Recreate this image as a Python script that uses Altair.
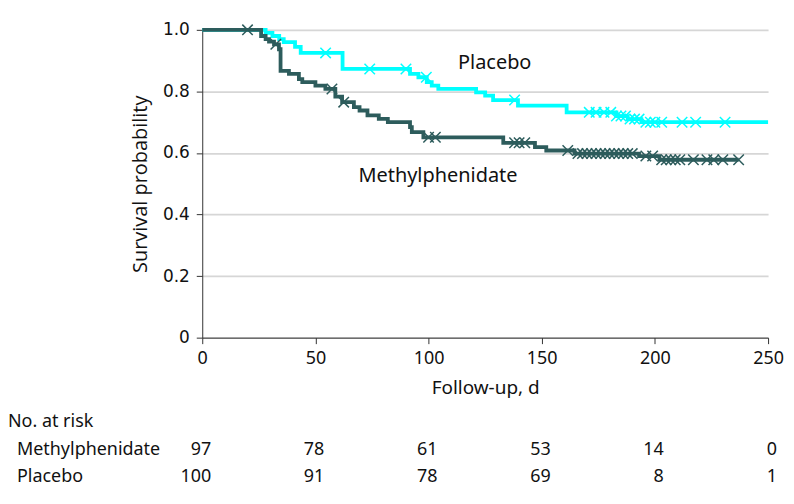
import altair as alt
import pandas as pd

# ---- data ----
placebo_t = [0, 28, 31, 34, 36, 41, 43.5, 62, 91.8, 95.5, 99.2, 101.4, 104.3, 121, 125, 128.5, 139.5, 161, 183, 188, 194, 250]
placebo_s = [1.0, 0.99, 0.98, 0.97, 0.96, 0.945, 0.925, 0.873, 0.857, 0.846, 0.83, 0.819, 0.808, 0.797, 0.786, 0.772, 0.754, 0.732, 0.72, 0.71, 0.70, 0.70]
placebo_cens = [54.5, 74, 90, 99, 138, 171, 174, 177.5, 180.5, 183, 185, 187, 189, 191, 193, 196, 198, 200, 203, 212, 218, 231]

meth_t = [0, 26, 28, 29.5, 31.7, 33.9, 34.6, 38.3, 42.7, 44.2, 50, 54.4, 58.8, 61.8, 67, 69.5, 73, 78, 82, 91.8, 92.6, 97.7, 133, 147, 152, 164.5, 193, 202, 237]
meth_s = [1.0, 0.98, 0.97, 0.962, 0.953, 0.937, 0.867, 0.857, 0.84, 0.83, 0.819, 0.808, 0.783, 0.765, 0.749, 0.738, 0.722, 0.711, 0.70, 0.684, 0.668, 0.651, 0.633, 0.619, 0.608, 0.598, 0.59, 0.578, 0.578]
meth_cens = [20, 32.5, 57.3, 62.5, 100, 103, 138, 140, 142.5, 161.5, 166, 168, 170, 172, 174, 176, 178, 180, 182, 184, 186, 188, 190, 196, 199, 203, 205, 207, 209, 211, 217, 223, 226, 230, 237]

risk_times = [0, 50, 100, 150, 200, 250]
risk_meth = [97, 78, 61, 53, 14, 0]
risk_placebo = [100, 91, 78, 69, 8, 1]

group_names = ["Placebo", "Methylphenidate"]
label_x = [113, 69]
label_y = [0.874, 0.506]

y_ticks = [0, 0.2, 0.4, 0.6, 0.8, 1.0]
x_ticks = [0, 50, 100, 150, 200, 250]

PLACEBO_COLOR = "#00FFFF"
METH_COLOR = "#2d5c5c"
FONT = "Noto Sans"


def step_value(ts, ss, c):
    v = ss[0]
    for t, s in zip(ts, ss):
        if t <= c:
            v = s
    return v


placebo_df = pd.DataFrame({"t": placebo_t, "s": placebo_s})
meth_df = pd.DataFrame({"t": meth_t, "s": meth_s})
placebo_c = pd.DataFrame({"t": placebo_cens, "s": [step_value(placebo_t, placebo_s, c) for c in placebo_cens]})
meth_c = pd.DataFrame({"t": meth_cens, "s": [step_value(meth_t, meth_s, c) for c in meth_cens]})
labels_df = pd.DataFrame({"name": group_names, "t": label_x, "s": label_y})
risk_df = pd.DataFrame({"t": risk_times, "m": [str(v) for v in risk_meth], "p": [str(v) for v in risk_placebo]})

xscale = alt.Scale(domain=[0, 250], nice=False, zero=True)
yscale = alt.Scale(domain=[0, 1], nice=False)

x_axis = alt.Axis(values=x_ticks, title="Follow-up, d", grid=False, tickSize=6,
                  labelPadding=6, titlePadding=11, labelFont=FONT, labelFontSize=18,
                  titleFont=FONT, titleFontSize=19, titleFontWeight="normal",
                  labelColor="#111", titleColor="#111", domainColor="#333", tickColor="#333",
                  labelFlush=False)
y_axis = alt.Axis(values=y_ticks, title="Survival probability", grid=True, tickSize=6,
                  labelPadding=7, titlePadding=12, labelFont="DejaVu Sans", labelFontSize=17,
                  titleFont="Open Sans", titleFontSize=20, titleFontWeight="normal",
                  labelExpr="datum.value == 0 ? '0' : format(datum.value, '.1f')",
                  gridColor="#d6d6d6", gridWidth=1.6,
                  labelColor="#111", titleColor="#111", domainColor="#333", tickColor="#333",
                  labelFlush=False)


def xy():
    return dict(x=alt.X("t:Q", scale=xscale, axis=x_axis),
                y=alt.Y("s:Q", scale=yscale, axis=y_axis))


placebo_line = alt.Chart(placebo_df).mark_line(interpolate="step-after", strokeWidth=3.8,
                                               color=PLACEBO_COLOR).encode(**xy())
meth_line = alt.Chart(meth_df).mark_line(interpolate="step-after", strokeWidth=3.8,
                                         color=METH_COLOR).encode(**xy())

cross = "M-1,-1L1,1M1,-1L-1,1"
placebo_marks = alt.Chart(placebo_c).mark_point(shape=cross, size=110, filled=False, strokeWidth=1.5,
                                                 color=PLACEBO_COLOR, opacity=1).encode(**xy())
meth_marks = alt.Chart(meth_c).mark_point(shape=cross, size=110, filled=False, strokeWidth=1.5,
                                           color=METH_COLOR, opacity=1).encode(**xy())

labels = alt.Chart(labels_df).mark_text(align="left", baseline="alphabetic", font=FONT, fontSize=20,
                                        color="#111").encode(text="name:N", **xy())

risk_m = alt.Chart(risk_df).mark_text(align="right", baseline="alphabetic", dx=9, font=FONT, fontSize=18,
                                      color="#111").encode(
    x=alt.X("t:Q", scale=xscale, axis=x_axis),
    y=alt.value(426.5),
    text="m:N",
)
risk_p = alt.Chart(risk_df).mark_text(align="right", baseline="alphabetic", dx=9, font=FONT, fontSize=18,
                                      color="#111").encode(
    x=alt.X("t:Q", scale=xscale, axis=x_axis),
    y=alt.value(454),
    text="p:N",
)

row_titles = pd.DataFrame({"txt": ["No. at risk", "Methylphenidate", "Placebo"]})
row_no = alt.Chart(row_titles).transform_filter("datum.txt == 'No. at risk'").mark_text(
    align="left", baseline="alphabetic", font=FONT, fontSize=18, color="#111").encode(
    x=alt.value(-195), y=alt.value(399), text="txt:N")
row_m = alt.Chart(row_titles).transform_filter("datum.txt == 'Methylphenidate'").mark_text(
    align="left", baseline="alphabetic", font=FONT, fontSize=18, color="#111").encode(
    x=alt.value(-186), y=alt.value(426.5), text="txt:N")
row_p = alt.Chart(row_titles).transform_filter("datum.txt == 'Placebo'").mark_text(
    align="left", baseline="alphabetic", font=FONT, fontSize=18, color="#111").encode(
    x=alt.value(-186), y=alt.value(454), text="txt:N")

chart = alt.layer(
    placebo_line, meth_line, placebo_marks, meth_marks, labels, risk_m, risk_p, row_no, row_m, row_p
).properties(
    width=568, height=309,
    background="white",
    autosize=alt.AutoSizeParams(type="none"),
    padding={"left": 195, "top": 21, "right": 18, "bottom": 150},
).configure_view(stroke=None)

chart.save("out.html", embed_options={"renderer": "svg", "actions": False})
